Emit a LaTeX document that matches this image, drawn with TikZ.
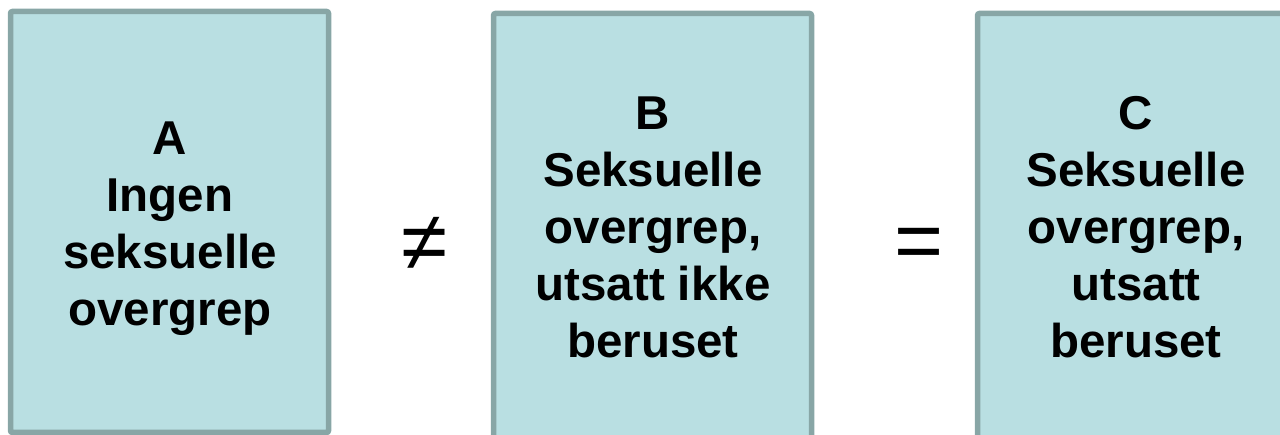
\documentclass[tikz,border=0pt]{standalone}
\usepackage{fontspec}
\setmainfont{Liberation Sans}
\definecolor{boxfill}{RGB}{185,223,226}
\definecolor{boxline}{RGB}{136,166,166}
\begin{document}
\begin{tikzpicture}[x=1pt,y=-1pt,
  panel/.style={draw=boxline, fill=boxfill, line width=5.5pt, rounded corners=2pt},
  lbl/.style={align=center, font=\fontsize{47.5}{57}\selectfont\bfseries, inner sep=0pt},
  rel/.style={font=\fontsize{84}{90}\selectfont, inner sep=0pt}]
\useasboundingbox (0,0) rectangle (1280,435);
\begin{scope}
\clip (0,0) rectangle (1280,435);
\draw[panel] (10.5,11.5) rectangle (328.5,432.5);
\draw[panel] (493.5,13.5) rectangle (811.5,450);
\draw[panel] (977.5,13.5) rectangle (1300,450);
\end{scope}
\node[lbl] (a) at (170,229) {A\\Ingen\\seksuelle\\overgrep};
\node[lbl] (b) at (653,227.5) {B\\Seksuelle\\overgrep,\\utsatt ikke\\beruset};
\node[lbl] (c) at (1136,227.5) {C\\Seksuelle\\overgrep,\\utsatt\\beruset};
\node[rel] (ne) at (425,244) {≠};
\node[rel] (eq) at (919.5,249) {=};
\end{tikzpicture}
\end{document}
